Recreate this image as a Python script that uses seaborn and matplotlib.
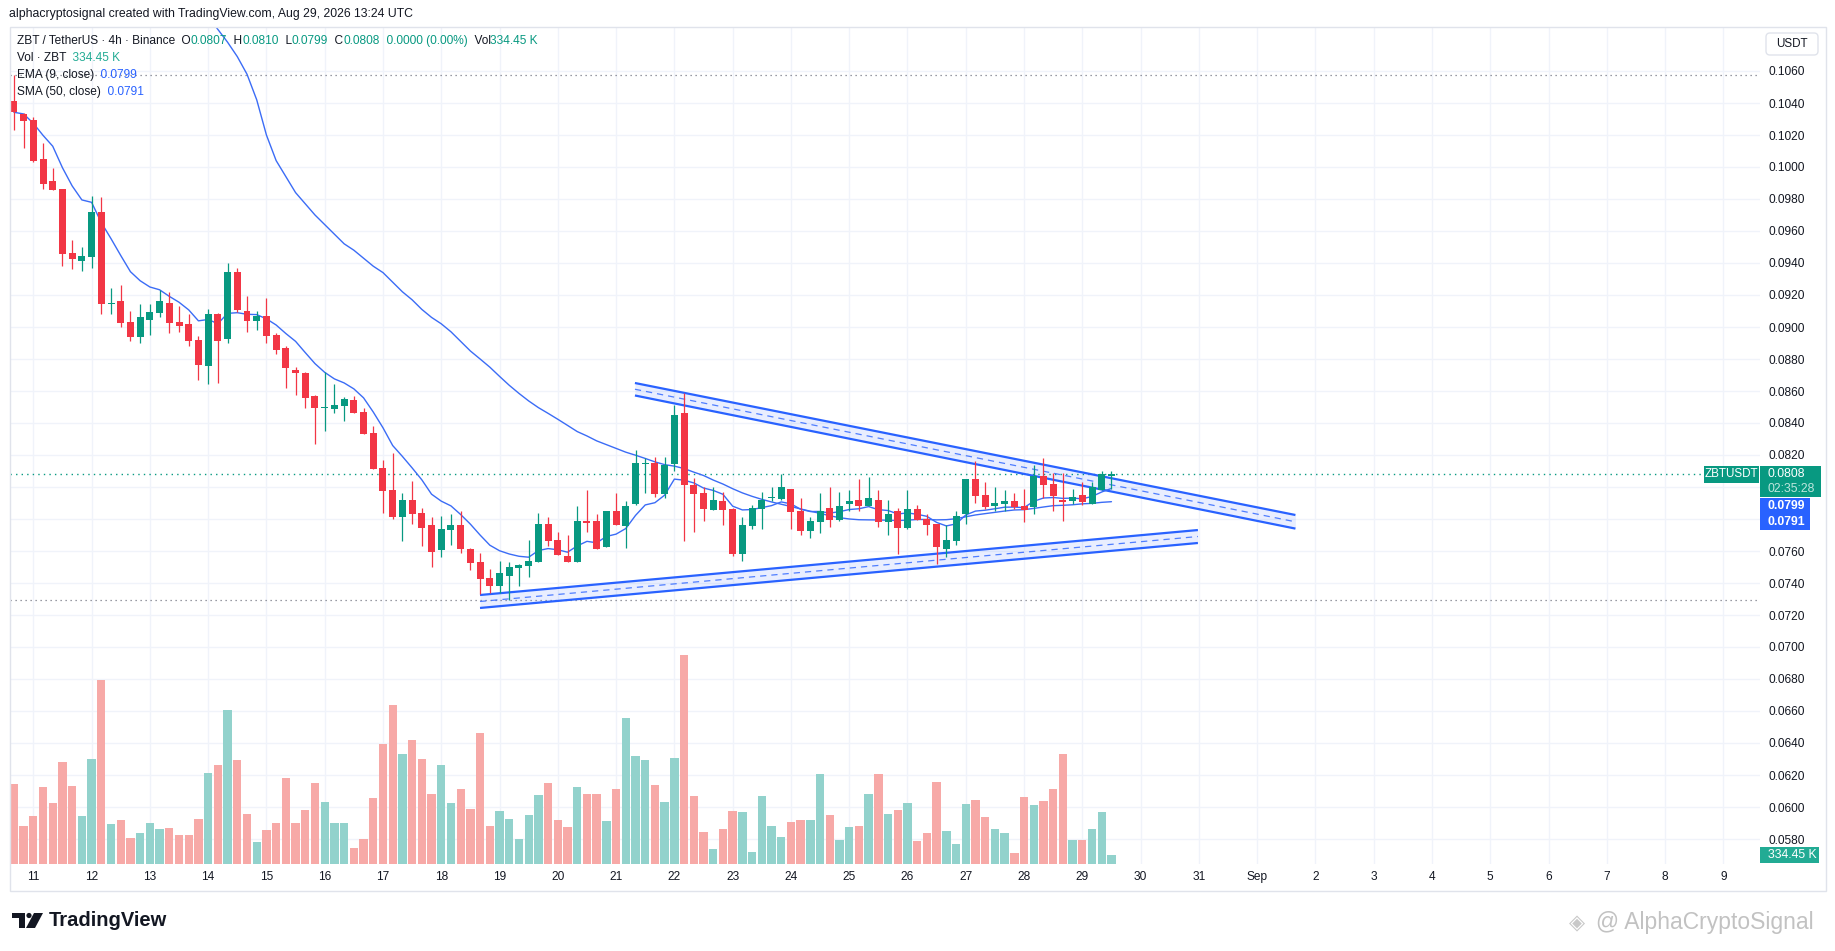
import numpy as np
import pandas as pd
import matplotlib
matplotlib.use("Agg")
import matplotlib.pyplot as plt
import seaborn as sns
from matplotlib.transforms import IdentityTransform
from matplotlib.patches import Rectangle, FancyBboxPatch, Polygon, Circle

# ---------------- data (ZBT/USDT 4h candles, Aug 10 16:00 -> Aug 29 12:00) ----------------
opens = [0.10413, 0.10331, 0.10294, 0.10050, 0.09913, 0.09863, 0.09465, 0.09415, 0.09438, 0.09719,
         0.09146, 0.09163, 0.09031, 0.08940, 0.09044, 0.09090, 0.09150, 0.09031, 0.09019, 0.08919,
         0.08758, 0.09081, 0.08927, 0.09344, 0.09100, 0.09040, 0.09069, 0.08952, 0.08871, 0.08733,
         0.08715, 0.08569, 0.08494, 0.08490, 0.08506, 0.08544, 0.08469, 0.08338, 0.08119, 0.07981,
         0.07815, 0.07919, 0.07835, 0.07763, 0.07608, 0.07733, 0.07763, 0.07612, 0.07531, 0.07431,
         0.07383, 0.07446, 0.07496, 0.07506, 0.07533, 0.07769, 0.07669, 0.07569, 0.07533, 0.07785,
         0.07788, 0.07627, 0.07850, 0.07756, 0.07894, 0.08146, 0.08150, 0.07958, 0.08144, 0.08463,
         0.08013, 0.07963, 0.07858, 0.07913, 0.07863, 0.07583, 0.07758, 0.07865, 0.07929, 0.07925,
         0.07988, 0.07850, 0.07727, 0.07783, 0.07869, 0.07796, 0.07896, 0.07919, 0.07883, 0.07919,
         0.07783, 0.07850, 0.07746, 0.07863, 0.07800, 0.07769, 0.07615, 0.07665, 0.07833, 0.08050,
         0.07950, 0.07883, 0.07896, 0.07913, 0.07881, 0.07877, 0.08069, 0.08019, 0.07919, 0.07915,
         0.07950, 0.07896, 0.07981, 0.08070]
highs = [0.10575, 0.10335, 0.10310, 0.10152, 0.09994, 0.09865, 0.09544, 0.09498, 0.09819, 0.09813,
         0.09244, 0.09260, 0.09098, 0.09142, 0.09142, 0.09231, 0.09219, 0.09131, 0.09081, 0.08944,
         0.09113, 0.09085, 0.09400, 0.09369, 0.09194, 0.09100, 0.09181, 0.08965, 0.08883, 0.08752,
         0.08719, 0.08572, 0.08717, 0.08644, 0.08565, 0.08569, 0.08494, 0.08381, 0.08169, 0.08210,
         0.07960, 0.08037, 0.07868, 0.07815, 0.07819, 0.07831, 0.07850, 0.07619, 0.07590, 0.07485,
         0.07535, 0.07529, 0.07521, 0.07669, 0.07838, 0.07813, 0.07719, 0.07700, 0.07881, 0.07981,
         0.07831, 0.07852, 0.07963, 0.07913, 0.08231, 0.08183, 0.08185, 0.08185, 0.08513, 0.08590,
         0.08058, 0.08000, 0.08000, 0.07969, 0.07866, 0.07813, 0.07888, 0.07969, 0.08000, 0.08081,
         0.07990, 0.07931, 0.07813, 0.07963, 0.08000, 0.07969, 0.07981, 0.08050, 0.08063, 0.07981,
         0.07919, 0.07869, 0.07981, 0.07888, 0.07831, 0.07771, 0.07763, 0.07850, 0.08052, 0.08163,
         0.08031, 0.08000, 0.07981, 0.07963, 0.07988, 0.08138, 0.08181, 0.08088, 0.08088, 0.07988,
         0.08031, 0.08031, 0.08100, 0.08100]
lows = [0.10231, 0.10121, 0.10033, 0.09865, 0.09855, 0.09381, 0.09363, 0.09352, 0.09371, 0.09083,
        0.09081, 0.09002, 0.08915, 0.08902, 0.08950, 0.09065, 0.08965, 0.08971, 0.08881, 0.08669,
        0.08644, 0.08652, 0.08902, 0.09094, 0.08971, 0.08983, 0.08902, 0.08833, 0.08621, 0.08575,
        0.08496, 0.08271, 0.08352, 0.08465, 0.08412, 0.08462, 0.08330, 0.08110, 0.07840, 0.07802,
        0.07665, 0.07771, 0.07633, 0.07502, 0.07565, 0.07640, 0.07590, 0.07481, 0.07331, 0.07340,
        0.07340, 0.07294, 0.07383, 0.07440, 0.07530, 0.07633, 0.07575, 0.07530, 0.07530, 0.07721,
        0.07612, 0.07625, 0.07760, 0.07621, 0.07888, 0.07965, 0.07940, 0.07933, 0.08102, 0.07665,
        0.07721, 0.07790, 0.07855, 0.07765, 0.07571, 0.07540, 0.07740, 0.07740, 0.07915, 0.07919,
        0.07740, 0.07702, 0.07683, 0.07715, 0.07752, 0.07790, 0.07852, 0.07852, 0.07880, 0.07752,
        0.07702, 0.07583, 0.07740, 0.07794, 0.07702, 0.07521, 0.07565, 0.07640, 0.07771, 0.07902,
        0.07865, 0.07852, 0.07852, 0.07865, 0.07783, 0.07833, 0.07933, 0.07852, 0.07790, 0.07896,
        0.07890, 0.07894, 0.07979, 0.07990]
closes = [0.10342, 0.10290, 0.10040, 0.09896, 0.09858, 0.09458, 0.09427, 0.09444, 0.09719, 0.09146,
          0.09150, 0.09027, 0.08940, 0.09063, 0.09094, 0.09163, 0.09027, 0.09008, 0.08915, 0.08765,
          0.09081, 0.08915, 0.09344, 0.09106, 0.09040, 0.09069, 0.08946, 0.08858, 0.08746, 0.08715,
          0.08558, 0.08496, 0.08498, 0.08512, 0.08550, 0.08465, 0.08333, 0.08113, 0.07977, 0.07815,
          0.07919, 0.07833, 0.07746, 0.07596, 0.07738, 0.07763, 0.07612, 0.07527, 0.07427, 0.07383,
          0.07463, 0.07500, 0.07510, 0.07538, 0.07769, 0.07665, 0.07577, 0.07533, 0.07788, 0.07775,
          0.07615, 0.07850, 0.07763, 0.07881, 0.08150, 0.08150, 0.07958, 0.08138, 0.08450, 0.08015,
          0.07958, 0.07865, 0.07919, 0.07858, 0.07583, 0.07763, 0.07869, 0.07919, 0.07933, 0.08000,
          0.07846, 0.07727, 0.07788, 0.07850, 0.07796, 0.07881, 0.07913, 0.07883, 0.07931, 0.07783,
          0.07831, 0.07746, 0.07863, 0.07796, 0.07765, 0.07627, 0.07669, 0.07819, 0.08050, 0.07946,
          0.07877, 0.07900, 0.07913, 0.07877, 0.07858, 0.08069, 0.08013, 0.07946, 0.07908, 0.07938,
          0.07908, 0.08000, 0.08081, 0.08080]
volumes_k = [3059, 1446, 1830, 2944, 2330, 3904, 2982, 1830, 4019, 7053,
             1523, 1677, 986, 1178, 1562, 1331, 1370, 1101, 1101, 1715,
             3482, 3789, 5901, 3981, 1907, 832, 1293, 1562, 3290, 1562,
             2061, 3098, 2368, 1562, 1562, 602, 947, 2522, 4595, 6093,
             4211, 4749, 4019, 2675, 3789, 2330, 2867, 2099, 5018, 1446,
             2022, 1715, 947, 1869, 2637, 3098, 1677, 1408, 2944, 2675,
             2675, 1638, 2867, 5594, 4134, 3981, 3021, 2368, 4058, 8013,
             2598, 1216, 563, 1331, 2022, 1984, 448, 2598, 1446, 1024,
             1600, 1677, 1677, 3443, 1869, 909, 1408, 1446, 2675, 3443,
             1907, 2061, 2330, 870, 1178, 3136, 1254, 755, 2291, 2445,
             1792, 1331, 1178, 410, 2560, 2253, 2406, 2867, 4211, 909,
             909, 1331, 1984, 334.45]
sma_early_start = 20
sma_early = [0.1094, 0.1086, 0.1078, 0.1069, 0.1058, 0.1042, 0.1020, 0.1004, 0.0994, 0.0984,
             0.0977, 0.0970, 0.0964, 0.0958, 0.0952, 0.0948, 0.0943, 0.0938, 0.0934, 0.0928,
             0.0922, 0.0917, 0.0911, 0.0906, 0.0902, 0.0897, 0.0891, 0.0885, 0.0880]

# x-axis day labels (one per day, every 6 candles starting at Aug 11 00:00)
day_labels = ["11", "12", "13", "14", "15", "16", "17", "18", "19", "20", "21", "22", "23", "24",
              "25", "26", "27", "28", "29", "30", "31", "Sep", "2", "3", "4", "5", "6", "7", "8", "9"]
first_day_index = 2
price_ticks = [0.0580, 0.0600, 0.0620, 0.0640, 0.0660, 0.0680, 0.0700, 0.0720, 0.0740, 0.0760,
               0.0780, 0.0800, 0.0820, 0.0840, 0.0860, 0.0880, 0.0900, 0.0920, 0.0940, 0.0960,
               0.0980, 0.1000, 0.1020, 0.1040, 0.1060]
hidden_tick_labels = [0.0780, 0.0800]

# drawn channel (triangle) annotations: (candle index, price) anchors
upper_x = [63.94, 131.94]
upper_top = [0.08650, 0.07825]
upper_bot = [0.08572, 0.07740]
lower_x = [47.99, 121.9]
lower_top = [0.07325, 0.07731]
lower_bot = [0.07244, 0.07650]

last_price = 0.0808
ema_label, sma_label = "0.0799", "0.0791"

# ---------------- style ----------------
W, H = 1835, 951
sns.set_theme(style="white")
plt.rcParams['font.family'] = ['Liberation Sans', 'DejaVu Sans']
DARK = '#131722'
UP, DOWN = '#089981', '#F23645'
VUP, VDOWN = '#92D2CC', '#F7A9A7'
BLUE = '#2962FF'
GRID = '#F0F3FA'
FS = 8.6

fig = plt.figure(figsize=(W / 100, H / 100), dpi=100)
fig.patch.set_facecolor('white')


def fx(x):
    return x / W


def fy(y):
    return 1 - y / H


ax = fig.add_axes([fx(10), fy(864), fx(1760) - fx(10), fy(27) - fy(864)])
ax.set_facecolor('white')

df = pd.DataFrame({'open': opens, 'high': highs, 'low': lows, 'close': closes, 'vol': volumes_k})
df['idx'] = np.arange(len(df))
df['up'] = df['close'] >= df['open']
df['ema'] = df['close'].ewm(span=9, adjust=False).mean()
sma = df['close'].rolling(50).mean()
for k, v in enumerate(sma_early):
    sma.iloc[sma_early_start + k] = v
df['sma'] = sma

x_min, x_max = -0.40, 179.77
ax.set_xlim(x_min, x_max)
ax.set_ylim(0.0564375, 0.10875)

# high / low / last price lines
ax.axhline(max(highs), color='#787B86', ls=(0, (1, 3)), lw=0.9, zorder=1)
ax.axhline(min(lows), color='#787B86', ls=(0, (1, 3)), lw=0.9, zorder=1)
ax.axhline(last_price, color=UP, ls=(0, (1, 3)), lw=1.0, zorder=1)

# channel bands
for xs, top, bot in [(upper_x, upper_top, upper_bot), (lower_x, lower_top, lower_bot)]:
    ax.fill_between(xs, bot, top, color=BLUE, alpha=0.10, lw=0, zorder=2)
    ax.plot(xs, top, color=BLUE, lw=1.6, zorder=2, solid_capstyle='butt')
    ax.plot(xs, bot, color=BLUE, lw=1.6, zorder=2, solid_capstyle='butt')
    ax.plot(xs, [(a + b) / 2 for a, b in zip(top, bot)], color=BLUE, lw=0.9, alpha=0.8,
            ls=(0, (5, 4)), zorder=2)

# moving averages
sns.lineplot(data=df, x='idx', y='sma', ax=ax, color='#3B6CF6', lw=1.0, estimator=None,
             legend=False, zorder=3)
sns.lineplot(data=df, x='idx', y='ema', ax=ax, color='#3B6CF6', lw=1.0, estimator=None,
             legend=False, zorder=3)
ax.set_xlabel('')
ax.set_ylabel('')

# candles
colors = np.where(df['up'], UP, DOWN)
ax.vlines(df['idx'], df['low'], df['high'], colors=colors, lw=0.9, zorder=4)
body_lo = np.minimum(df['open'], df['close'])
body_h = np.maximum(np.abs(df['close'] - df['open']), 0.00007)
ax.bar(df['idx'], body_h, bottom=body_lo, width=0.72, color=colors, lw=0, zorder=5)

# volume (overlay, own scale)
axv = ax.twinx()
axv.set_ylim(0, 32141)
axv.bar(df['idx'], df['vol'], width=0.86, color=np.where(df['up'], VUP, VDOWN), lw=0)
axv.set_axis_off()

# axes, ticks and grid of the price pane (after twinx, which moves ticks left)
ax.set_xlim(x_min, x_max)
axv.set_xlim(x_min, x_max)
ax.set_xticks([first_day_index + 6 * k for k in range(len(day_labels))])
ax.set_xticklabels(day_labels)
ax.set_yticks(price_ticks)
ax.set_yticklabels(["" if any(abs(t - h) < 1e-9 for h in hidden_tick_labels) else f"{t:.4f}"
                    for t in price_ticks])
ax.yaxis.tick_right()
ax.yaxis.set_label_position('right')
ax.grid(True, color=GRID, lw=1.0)
ax.set_axisbelow(True)
ax.tick_params(axis='y', which='both', left=False, right=False, labelleft=False, labelright=True,
               length=0, pad=6, labelsize=FS, labelcolor=DARK)
ax.tick_params(axis='x', length=0, pad=5, labelsize=FS, labelcolor=DARK)
for s in ax.spines.values():
    s.set_visible(False)

# ---------------- pixel helpers ----------------
ID = IdentityTransform()


def rect(x0, y0, x1, y1, fc, ec='none', lw=0, z=5):
    fig.add_artist(Rectangle((x0, H - y1), x1 - x0, y1 - y0, transform=ID, fc=fc, ec=ec, lw=lw,
                             zorder=z))


def txt(x, y, s, color=DARK, size=FS, ha='left', weight='normal', z=6, family=None):
    kw = {}
    if family:
        kw['family'] = family
    return fig.text(x, H - y, s, transform=ID, color=color, fontsize=size, ha=ha, va='center',
                    fontweight=weight, zorder=z, **kw)


def price_y(p):
    return H - ax.transData.transform((0, p))[1]


# outer frame
rect(10, 27, 1826, 891, fc='none', ec='#E0E3EB', lw=1.0, z=3)

# header
txt(9, 14, "alphacryptosignal created with TradingView.com, Aug 29, 2026 13:24 UTC", size=8.8)

renderer = fig.canvas.get_renderer()


def segments(x, y, parts, size=FS):
    for s, c in parts:
        t = txt(x, y, s, color=c, size=size)
        x += t.get_window_extent(renderer).width


segments(17, 41, [("ZBT / TetherUS · 4h · Binance", DARK), ("  O", DARK), ("0.0807", UP),
                  ("  H", DARK), ("0.0810", UP), ("  L", DARK), ("0.0799", UP),
                  ("  C", DARK), ("0.0808", UP), ("  0.0000 (0.00%)", UP),
                  ("  Vol", DARK), ("334.45 K", UP)])
segments(17, 58, [("Vol · ZBT", DARK), ("  334.45 K", '#22AB94')])
segments(17, 75, [("EMA (9, close)", DARK), ("  " + ema_label, BLUE)])
segments(17, 92, [("SMA (50, close)", DARK), ("  " + sma_label, BLUE)])

# USDT box
fig.add_artist(FancyBboxPatch((1766, H - 55), 52, 22, boxstyle="round,pad=0,rounding_size=4",
                              transform=ID, fc='white', ec='#E0E3EB', lw=1.0, zorder=5))
txt(1792, 44, "USDT", ha='center', size=8.4)

# last price labels
py = price_y(last_price)
rect(1704, py - 8.5, 1759, py + 8.5, fc=UP)
txt(1731.5, py, "ZBTUSDT", color='white', ha='center', size=8.4)
rect(1760, py - 8.5, 1821, py + 23, fc=UP)
txt(1768, py, f"{last_price:.4f}", color='white', size=8.8)
txt(1768, py + 15, "02:35:28", color='#BFE6DE', size=8.8)
rect(1760, py + 23.5, 1810, py + 39.5, fc=BLUE)
txt(1768, py + 31.5, ema_label, color='white', size=8.8, weight='bold')
rect(1760, py + 39.5, 1810, py + 55.5, fc=BLUE)
txt(1768, py + 47.5, sma_label, color='white', size=8.8, weight='bold')
rect(1760, 847, 1819, 863, fc='#22AB94')
txt(1768, 855, "334.45 K", color='white', size=8.8)

# TradingView logo
logo = '#131722'
rect(12, 913, 25, 918, fc=logo, z=6)
rect(19, 913, 25, 928, fc=logo, z=6)
fig.add_artist(Circle((29, H - 915.5), 2.6, transform=ID, fc=logo, ec='none', zorder=6))
fig.add_artist(Polygon([(34, H - 913), (43, H - 913), (35, H - 928), (26, H - 928)], closed=True,
                       transform=ID, fc=logo, ec='none', zorder=6))
txt(49, 921, "TradingView", color=logo, size=14.5, weight='bold')

# watermark
txt(1577, 923, "◈", color='#C8C8C8', size=15, ha='center', family=['DejaVu Sans'])
txt(1596, 923, "@ AlphaCryptoSignal", color='#C2C2C2', size=16.5)

fig.savefig('out.png', dpi=100, facecolor='white')
